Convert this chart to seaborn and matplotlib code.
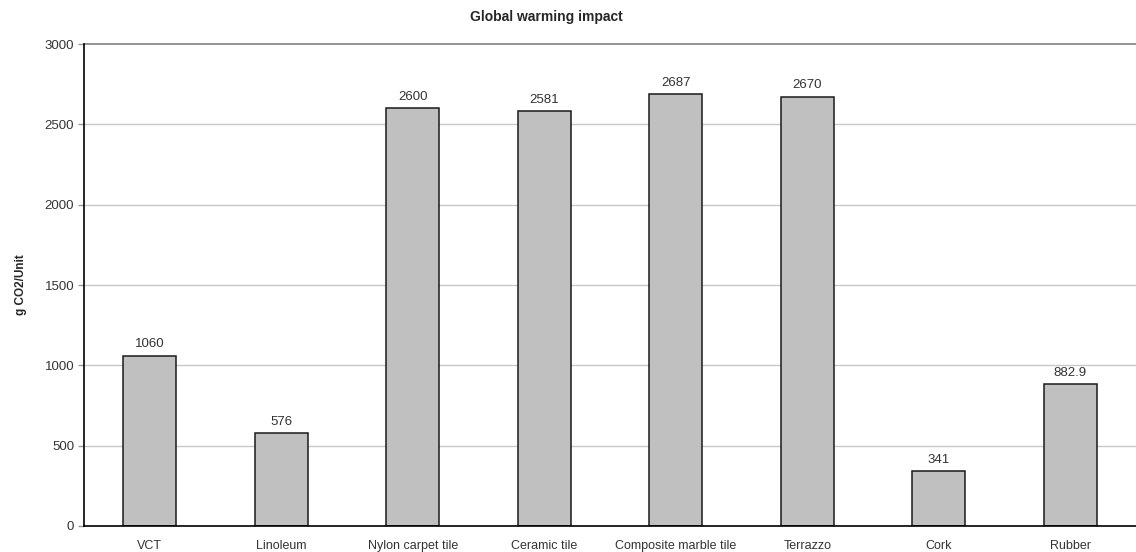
import matplotlib
matplotlib.use("Agg")
import matplotlib.pyplot as plt
import seaborn as sns
import numpy as np

categories = ["VCT", "Linoleum", "Nylon carpet tile", "Ceramic tile",
              "Composite marble tile", "Terrazzo", "Cork", "Rubber"]
values = [1060, 576, 2600, 2581, 2687, 2670, 341, 882.9]
value_labels = ["1060", "576", "2600", "2581", "2687", "2670", "341", "882.9"]
yticks = [0, 500, 1000, 1500, 2000, 2500, 3000]

sns.set_style("white")
plt.rcParams["font.family"] = ["Liberation Sans", "DejaVu Sans"]

fig = plt.figure(figsize=(11.36, 5.52), dpi=100)
ax = fig.add_axes([84 / 1136, 26 / 552, 1 - 84 / 1136, (526 - 44) / 552])

sns.barplot(x=categories, y=values, color="#c0c0c0", saturation=1,
            edgecolor="#1a1a1a", linewidth=1.1, width=0.4, ax=ax, zorder=3)

ax.set_ylim(0, 3000)
ax.set_xlim(-0.5, len(categories) - 0.5)
ax.set_yticks(yticks)
ax.set_yticklabels([str(t) for t in yticks], fontsize=9.5, color="#333333")
ax.set_xticks(np.arange(len(categories)))
ax.set_xticklabels(categories, fontsize=9, color="#333333")
ax.set_xticks(np.arange(len(categories) + 1) - 0.5, minor=True)
ax.tick_params(axis="x", which="major", length=0, pad=10)
ax.tick_params(axis="x", which="minor", length=4, color="#999999", width=1)
ax.tick_params(axis="y", which="major", length=4, color="#999999", width=1, pad=3, left=True)

for y in yticks[1:-1]:
    ax.axhline(y, color="#c8c8c8", linewidth=1, zorder=1)

for s in ["left", "bottom"]:
    ax.spines[s].set_color("black")
    ax.spines[s].set_linewidth(1.2)
    ax.spines[s].set_zorder(5)
ax.spines["top"].set_color("#808080")
ax.spines["top"].set_linewidth(1.2)
ax.spines["right"].set_visible(False)

for i, (v, lab) in enumerate(zip(values, value_labels)):
    ax.annotate(lab, (i, v), xytext=(0, 4), textcoords="offset points",
                ha="center", va="bottom", fontsize=9.5, color="#333333")

ax.set_ylabel("g CO2/Unit", fontsize=8.5, fontweight="bold", labelpad=13)
fig.text(546 / 1136, 1 - 17 / 552, "Global warming impact", ha="center", va="center",
         fontsize=10, fontweight="bold")

fig.savefig("out.png", dpi=100)
